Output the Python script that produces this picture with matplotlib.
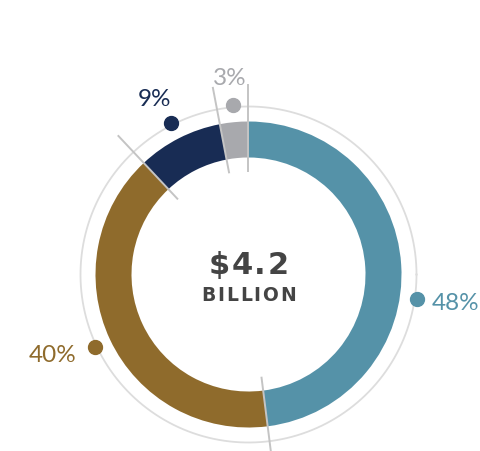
import numpy as np
import matplotlib.pyplot as plt

# data
labels = ["48%", "40%", "9%", "3%"]
values = [48, 40, 9, 3]
colors = ["#5592a8", "#8f6b2c", "#182c54", "#a8a9ad"]
total_text = "$4.2"
unit_text = "BILLION"

# layout (pixel coords, y up)
W, H = 481, 452
cx, cy = 248.5, H - 275.5
r_out, ring_w = 153, 36
r_circle = 168
r_dot = 170
sep_r = (104, 190)
# label angle nudge (deg, clockwise) and text offset in px (x, baseline below dot)
angle_nudge = [12, 0, 0, 0]
text_off = [(15, 10), (-18, 14), (-17, -18), (-3, -21)]
text_ha = ["left", "right", "center", "center"]

plt.rcParams["font.family"] = ["Lato", "DejaVu Sans"]

fig = plt.figure(figsize=(W / 100, H / 100), dpi=100)
ax = fig.add_axes([0, 0, 1, 1])
renderer = fig.canvas.get_renderer()


def spaced_text(x, y, s, gap, **kw):
    # draw text char by char with extra letter spacing, centred on x
    widths = []
    for ch in s:
        t = ax.text(0, 0, ch, **kw)
        widths.append(t.get_window_extent(renderer).width)
        t.remove()
    total = sum(widths) + gap * (len(s) - 1)
    xx = x - total / 2
    for ch, w in zip(s, widths):
        ax.text(xx, y, ch, ha="left", va="baseline", **kw)
        xx += w + gap


ax.pie(values, colors=colors, radius=r_out, center=(cx, cy), startangle=90,
       counterclock=False, wedgeprops=dict(width=ring_w, linewidth=0))
ax.set_xlim(0, W)
ax.set_ylim(0, H)
ax.set_aspect("equal")
ax.axis("off")

# thin outer circle
t = np.linspace(0, 2 * np.pi, 400)
ax.plot(cx + r_circle * np.cos(t), cy + r_circle * np.sin(t), color="#dddddd", lw=1.3, zorder=0)

# separators at segment boundaries
frac = np.cumsum(values) / np.sum(values)
for f in frac:
    a = np.deg2rad(90 - 360 * f)
    ax.plot([cx + sep_r[0] * np.cos(a), cx + sep_r[1] * np.cos(a)],
            [cy + sep_r[0] * np.sin(a), cy + sep_r[1] * np.sin(a)],
            color="#c4c4c4", lw=1.4, zorder=3)

# dots + labels
starts = np.concatenate([[0], frac[:-1]])
for i, (lab, col) in enumerate(zip(labels, colors)):
    mid = 360 * (starts[i] + frac[i]) / 2 + angle_nudge[i]
    a = np.deg2rad(90 - mid)
    dx, dy = cx + r_dot * np.cos(a), cy + r_dot * np.sin(a)
    ax.plot(dx, dy, "o", color=col, ms=10, zorder=4)
    ax.text(dx + text_off[i][0], dy - text_off[i][1], lab, color=col, fontsize=17.5,
            ha=text_ha[i], va="baseline")

center_font = dict(family="DejaVu Sans", fontweight="bold", color="#444444")
spaced_text(cx, cy + 1.5, total_text, 1.5, fontsize=22, **center_font)
spaced_text(cx, cy - 25.5, unit_text, 1.8, fontsize=13.5, **center_font)

ax.set_xlim(0, W)
ax.set_ylim(0, H)

plt.savefig("out.png", dpi=100)
